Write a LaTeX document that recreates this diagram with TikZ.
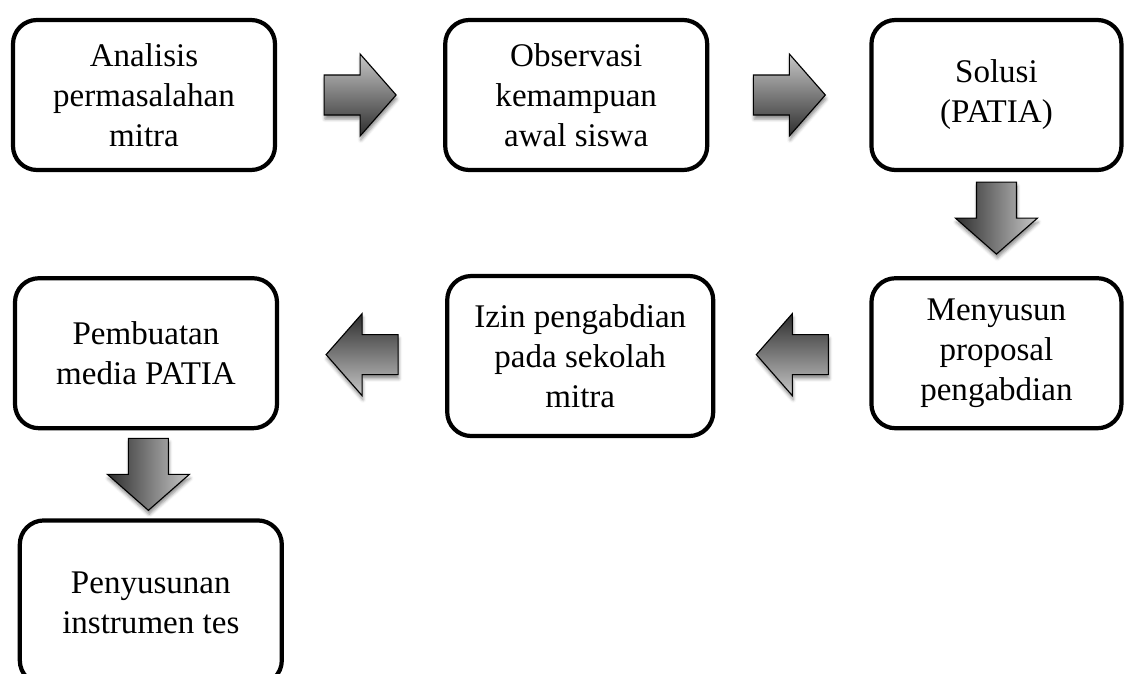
\documentclass[tikz,border=0pt]{standalone}
\usepackage{fontspec}
\setmainfont{Liberation Serif}
\usetikzlibrary{positioning, calc, shadows.blur}
\tikzset{
  stepbox/.style={draw, line width=3pt, rounded corners=0.6cm, align=center,
    minimum width=6.55cm, minimum height=3.75cm, font=\fontsize{23.5}{28.5}\selectfont},
  flowarrow/.pic={
    \path[draw=black, line width=0.8pt, rotate=#1,
      top color=black!22, bottom color=black!82, shading angle=#1,
      blur shadow={shadow xshift=0.02cm, shadow yshift=-0.1cm, shadow blur radius=0.08cm, shadow opacity=45}]
      (-0.9,0.5) -- (0,0.5) -- (0,1.025) -- (0.9,0) -- (0,-1.025) -- (0,-0.5) -- (-0.9,-0.5) -- cycle;
  }
}

\begin{document}
\begin{tikzpicture}
  \useasboundingbox (0,0) rectangle (28.3,-16.825);

  \node[stepbox] (analisis) at (3.6,-2.375) {Analisis\\permasalahan\\mitra};
  \node[stepbox] (observasi) [right = 4.15cm of analisis] {Observasi\\kemampuan\\awal siswa};
  \node[stepbox, minimum width=6.25cm] (solusi) [right = 4cm of observasi] {Solusi\\(PATIA)};
  \node[stepbox, minimum width=6.25cm] (menyusun) [below = 2.6cm of solusi] {Menyusun\\proposal\\pengabdian};
  \node[stepbox, minimum width=6.65cm, minimum height=4cm] (izin) [left = 3.85cm of menyusun, yshift=-0.07cm] {Izin pengabdian\\pada sekolah\\mitra};
  \node[stepbox] (pembuatan) [left = 4.15cm of izin, yshift=0.07cm] {Pembuatan\\media PATIA};
  \node[stepbox, minimum height=4.1cm] (penyusunan) [below = 2.2cm of pembuatan, xshift=0.12cm] {Penyusunan\\instrumen tes};

  \pic (arr1) at ($(analisis.east)!0.5!(observasi.west)$) {flowarrow=0};
  \pic (arr2) at ($(observasi.east)!0.5!(solusi.west)$) {flowarrow=0};
  \pic (arr3) at ($(solusi.south)!0.5!(menyusun.north)+(0,0.15)$) {flowarrow=-90};
  \pic (arr4) at ($(menyusun.west)!0.5!(izin.east)$) {flowarrow=180};
  \pic (arr5) at ($(izin.west)!0.5!(pembuatan.east)$) {flowarrow=180};
  \pic (arr6) at ($(pembuatan.south)!0.5!(penyusunan.north)$) {flowarrow=-90};
\end{tikzpicture}
\end{document}
